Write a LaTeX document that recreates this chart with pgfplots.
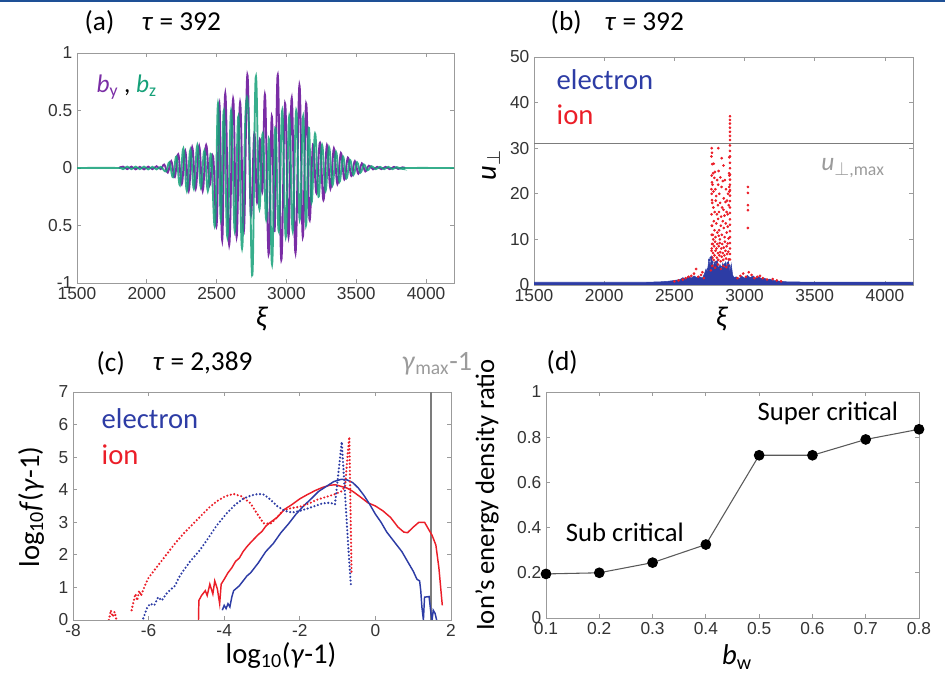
\documentclass[border=0pt]{standalone}
\usepackage{pgfplots}
\pgfplotsset{compat=1.18}
\usepackage{fontspec}
\setmainfont{Carlito}
\newfontfamily\tickfont{Liberation Sans}
\definecolor{cpurple}{RGB}{122,45,165}
\definecolor{cgreen}{RGB}{20,160,120}
\definecolor{cblue}{RGB}{45,60,165}
\definecolor{cred}{RGB}{235,30,40}
\definecolor{cgray}{RGB}{155,155,155}
\definecolor{ctop}{RGB}{30,80,150}
\pgfplotsset{
  every axis/.append style={
    scale only axis, anchor=south west,
    axis line style={cgray, line width=0.6pt},
    tick style={cgray, line width=0.6pt},
    tick align=inside, major tick length=3pt,
    ticklabel style={font=\tickfont\fontsize{13}{13}\selectfont, text=black!80},
    /pgf/number format/assume math mode=true,
    /pgf/number format/1000 sep={},
  },
  dotstyle/.style={line width=1.8pt, line cap=round, dash pattern=on 0pt off 2.7pt},
}
\newcommand{\tfont}{\fontsize{20.5}{24}\selectfont}
\newcommand{\lfont}{\fontsize{21.5}{24}\selectfont}
\begin{document}
\begin{tikzpicture}[x=0.75pt,y=0.75pt]
\useasboundingbox (0,0) rectangle (945,673);
\fill[ctop] (0,671.2) rectangle (945,673);

% ---------------- (a)
\begin{axis}[at={(57.75pt,292.5pt)}, width=282.75pt, height=172.5pt,
  xmin=1500, xmax=4200, ymin=-1, ymax=1,
  xtick={1500,2000,...,4000}, ytick={-1,-0.5,0,0.5,1},
  yticklabels={-1,0.5,0,0.5,1}]
\addplot[cpurple, line width=1.4pt, smooth, tension=0.7] coordinates {
(1800,0)(1830,0.012)(1860,-0.01)(1890,0.012)(1920,-0.012)(1950,0.01)(1980,-0.012)
(2010,0.012)(2040,-0.01)(2070,0.015)(2100,-0.01)(2125,0.03)(2150,-0.04)(2175,0.06)
(2200,-0.08)(2225,0.12)(2250,-0.14)(2275,0.15)(2300,-0.2)(2325,0.18)(2350,-0.18)
(2375,0.19)(2400,-0.2)(2425,0.2)(2450,-0.15)(2475,0.1)(2500,-0.5)(2520,0.56)
(2540,-0.63)(2562,0.65)(2590,-0.67)(2618,0.6)(2643,-0.6)(2668,0.57)(2695,-0.55)
(2720,0.81)(2745,-0.4)(2770,0.3)(2790,-0.3)(2810,0.25)(2828,-0.2)(2847,0.63)
(2872,-0.75)(2895,0.45)(2915,-0.55)(2938,0.81)(2963,-0.8)(2990,0.56)(3015,-0.6)
(3038,0.61)(3065,-0.74)(3093,0.72)(3117,-0.6)(3141,0.56)(3165,-0.45)(3190,0.2)
(3215,-0.22)(3240,0.22)(3265,-0.28)(3290,0.2)(3315,-0.18)(3340,0.17)(3365,-0.14)
(3390,0.13)(3415,-0.1)(3440,0.09)(3465,-0.07)(3490,0.06)(3515,-0.05)(3540,0.04)
(3565,-0.03)(3590,0.02)(3620,-0.012)(3650,0.01)(3680,-0.01)(3710,0.01)(3740,-0.01)
(3770,0.01)(3800,-0.008)(3830,0.006)(3850,0)};
\addplot[cgreen, line width=1.4pt, smooth, tension=0.7, opacity=0.85] coordinates {
(1500,0)(1800,0)(1830,-0.01)(1860,0.012)(1890,-0.01)(1920,0.012)(1950,-0.01)
(1980,0.012)(2010,-0.012)(2040,0.01)(2070,-0.012)(2100,0.01)(2137,-0.03)(2162,0.05)
(2187,-0.08)(2212,0.1)(2237,-0.15)(2262,0.17)(2287,-0.2)(2312,0.16)(2337,-0.18)
(2362,0.2)(2387,-0.17)(2412,0.15)(2437,-0.2)(2460,0.12)(2488,-0.5)(2510,0.56)
(2530,-0.45)(2552,0.5)(2577,-0.6)(2604,0.5)(2630,-0.55)(2656,0.45)(2682,-0.7)
(2708,0.5)(2732,0.35)(2756,-0.93)(2780,0.79)(2805,-0.35)(2830,0.3)(2855,-0.45)
(2875,0.25)(2897,-0.84)(2920,0.35)(2945,-0.55)(2970,0.5)(2995,-0.6)(3020,0.45)
(3045,-0.55)(3070,0.5)(3095,-0.45)(3120,0.45)(3140,-0.5)(3160,0.35)(3180,-0.3)
(3205,0.3)(3230,-0.25)(3255,0.2)(3280,-0.2)(3305,0.18)(3330,-0.15)(3355,0.14)
(3380,-0.12)(3405,0.1)(3430,-0.09)(3455,0.07)(3480,-0.06)(3505,0.05)(3530,-0.04)
(3555,0.03)(3580,-0.02)(3610,0.015)(3640,-0.01)(3670,0.01)(3700,-0.01)(3730,0.01)
(3760,-0.01)(3790,0.008)(3820,-0.006)(3850,0)(4200,0)};
\end{axis}

% ---------------- (b)
\begin{axis}[at={(400.5pt,291pt)}, width=284.25pt, height=171pt,
  xmin=1500, xmax=4200, ymin=0, ymax=50,
  xtick={1500,2000,...,4000}, ytick={0,10,...,50}]
\addplot[cgray!80!black, line width=0.8pt] coordinates {(1500,31)(4200,31)};
\addplot[draw=cblue, fill=cblue, line width=0.4pt] coordinates {
(1500,0.6)(2300,0.6)(2400,0.7)(2450,0.8)(2500,1.0)(2540,1.2)(2560,1.6)(2580,1.3)
(2600,1.9)(2620,1.5)(2640,2.0)(2660,1.6)(2680,1.8)(2700,1.5)(2715,2.5)(2725,3.5)
(2735,2.8)(2745,5.5)(2755,4.2)(2765,6.2)(2775,3.8)(2785,5.0)(2795,4.0)(2805,5.5)
(2815,3.5)(2825,4.5)(2835,3.2)(2845,4.8)(2855,3.5)(2865,5.0)(2875,3.8)(2885,5.2)
(2895,3.0)(2905,4.6)(2915,2.2)(2925,1.6)(2940,1.8)(2960,1.4)(2980,1.9)(3000,1.5)
(3020,2.1)(3040,1.6)(3060,2.0)(3080,1.5)(3100,1.8)(3120,1.4)(3140,1.5)(3160,1.2)
(3180,1.3)(3200,1.0)(3230,0.9)(3260,0.8)(3300,0.7)(3400,0.65)(4200,0.6)} \closedcycle;
\addplot[only marks, mark=*, mark size=0.8pt, cred] coordinates {
(2896,37)(2896,36.2)(2896,35.4)(2896,34.5)(2896,33.6)(2896,32.7)(2896,31.8)
(2896,30.6)(2896,29.4)(2896,28.2)(2896,26.8)(2896,25.6)(2896,24.2)(2896,23.1)
(2896,22.0)(2896,20.8)(2896,19.6)(2896,18.4)(2896,17.0)(2896,15.8)(2896,14.4)
(2896,13.2)(2896,11.8)(2896,10.5)(2896,9.2)(2896,8.0)(2896,6.8)(2896,5.6)
(2892,20.5)(2891,21.5)(2892,24)(2891,28)
(2766,30.0)(2768,29.0)(2764,28.2)(2770,26.5)(2766,24.0)(2768,22.5)(2764,21.0)
(2766,20.0)(2768,18.6)(2765,15.5)(2767,13.0)(2766,11.0)(2768,9.0)(2765,7.5)(2767,6.0)
(3024,21.5)(3024,20.2)(3024,17.5)(3024,16.4)(3024,12.5)
(2813,30.0)(2837,27.8)(2789,24.8)(2850,26.2)(2780,26.6)
(2772,22)(2779,20.5)(2785,23.5)(2792,21)(2798,19.5)(2805,23)(2812,22)(2820,20)
(2828,23.6)(2836,21.5)(2845,22.8)(2852,19)(2860,23)(2868,21)(2875,18.5)(2882,20)
(2890,24.5)(2776,24.5)(2815,25)
(2770,18)(2778,17)(2787,16)(2795,18.5)(2803,15.5)(2810,17.5)(2818,16)(2826,18)
(2833,15)(2840,17)(2850,16.5)(2857,15.2)(2864,18.2)(2872,16)(2880,15.5)(2887,17.5)
(2768,13)(2774,11)(2781,14)(2786,12)(2793,10.5)(2799,13.5)(2806,11.5)(2812,14.5)
(2819,12)(2824,10)(2831,13)(2838,11)(2845,14)(2852,12.5)(2858,10.5)(2866,13.5)
(2873,11.5)(2880,12.8)(2886,10.2)(2777,10)(2816,10.8)
(2766,8)(2770,6)(2773,9)(2776,7)(2780,5.5)(2783,8.5)(2786,6.5)(2790,9.5)(2793,7.5)
(2796,5)(2800,8)(2803,6)(2806,9)(2810,7)(2813,5.5)(2816,8.5)(2820,6.5)(2823,9.2)
(2827,7.2)(2830,5.2)(2834,8)(2837,6.2)(2841,9)(2845,7)(2848,5.5)(2852,8.2)(2856,6.5)
(2860,9.5)(2864,7.5)(2868,5.8)(2872,8.5)(2876,6.8)(2880,9.1)(2884,7.3)(2888,5.6)
(2770,4.2)(2790,3.8)(2810,4.5)(2830,3.5)(2850,4.2)(2870,3.9)(2885,4.4)(2760,3.2)
(2560,1.2)(2580,1.5)(2600,1.8)(2620,2.0)(2640,2.5)(2655,3.5)(2670,1.8)(2690,2.2)
(2700,2.8)(2710,1.5)(2950,1.5)(2970,2.0)(2990,2.5)(3010,1.8)(3030,2.8)(3050,2.2)
(3070,1.5)(3090,1.8)(3110,2.0)(3130,1.5)(3160,1.2)(3200,1.3)(3230,1.0)(2500,0.8)
(2530,1.0)(3260,0.8)};
\addplot[only marks, mark=*, mark size=0.8pt, cblue] coordinates {
(2750,5.5)(2760,6)(2770,5)(2790,4.5)(2800,5)(2830,4)(2860,4.5)(2880,4.8)(2890,4.2)
(2740,3.5)(2820,3.2)(2850,2.8)};
\end{axis}

% ---------------- (c)
\begin{axis}[at={(54.75pt,39.75pt)}, width=283.5pt, height=171pt,
  xmin=-8, xmax=2, ymin=0, ymax=7,
  xtick={-8,-6,...,2}, ytick={0,1,...,7}]
\addplot[cgray!80!black, line width=0.9pt] coordinates {(1.47,0)(1.47,7)};
\addplot[cred, line width=1.1pt] coordinates {
(-4.68,0.0)(-4.67,0.6)(-4.6,0.75)(-4.5,0.9)(-4.45,0.75)(-4.38,1.1)(-4.3,0.8)
(-4.25,1.2)(-4.18,0.95)(-4.12,0.5)(-4.08,1.1)(-4.0,1.25)(-3.9,1.45)(-3.8,1.6)
(-3.7,1.8)(-3.6,1.9)(-3.5,2.1)(-3.4,2.25)(-3.3,2.38)(-3.2,2.5)(-3.1,2.62)(-3.0,2.72)
(-2.9,2.88)(-2.8,2.98)(-2.6,3.15)(-2.4,3.4)(-2.2,3.55)(-2.0,3.72)(-1.8,3.85)
(-1.6,3.97)(-1.4,4.07)(-1.2,4.14)(-1.05,4.15)(-0.9,4.1)(-0.75,4.05)(-0.6,3.95)
(-0.4,3.78)(-0.2,3.6)(0,3.5)(0.2,3.35)(0.4,3.15)(0.6,2.85)(0.75,2.7)(0.85,2.68)
(1.0,2.85)(1.15,3.0)(1.3,3.0)(1.4,2.8)(1.5,2.6)(1.6,2.3)(1.68,1.6)(1.75,0.7)(1.77,0.45)};
\addplot[cblue, line width=1.1pt] coordinates {
(-4.05,0.3)(-4.0,0.45)(-3.95,0.35)(-3.9,0.5)(-3.85,0.4)(-3.8,0.7)(-3.75,0.9)
(-3.6,1.05)(-3.5,1.2)(-3.4,1.35)(-3.3,1.45)(-3.1,1.75)(-2.9,2.1)(-2.7,2.35)
(-2.5,2.68)(-2.3,2.95)(-2.1,3.25)(-1.9,3.5)(-1.7,3.72)(-1.5,3.95)(-1.3,4.1)
(-1.1,4.25)(-0.9,4.32)(-0.75,4.3)(-0.6,4.22)(-0.45,4.05)(-0.3,3.82)(-0.15,3.55)
(0.0,3.25)(0.15,3.0)(0.3,2.7)(0.5,2.4)(0.7,2.1)(0.9,1.7)(1.0,1.5)(1.1,1.25)
(1.17,1.2)(1.2,0.9)(1.23,0.4)(1.27,0.0)(1.3,0.7)(1.42,0.72)(1.47,0.2)(1.5,0.0)
(1.53,0.3)(1.58,0.2)(1.62,0.0)};
\addplot[cred, dotstyle] coordinates {
(-7.05,0)(-7.0,0.3)(-6.95,0.1)(-6.9,0.25)(-6.85,0)};
\addplot[cred, dotstyle] coordinates {
(-6.45,0.3)(-6.4,0.55)(-6.35,0.8)(-6.3,0.6)(-6.25,0.9)(-6.2,0.75)(-6.1,1.05)
(-6.0,1.3)(-5.9,1.45)(-5.7,1.75)(-5.5,2.05)(-5.3,2.35)(-5.07,2.66)(-4.85,2.92)
(-4.63,3.18)(-4.4,3.45)(-4.19,3.65)(-3.97,3.8)(-3.75,3.87)(-3.55,3.8)(-3.31,3.59)
(-3.15,3.3)(-2.96,2.97)(-2.78,2.95)(-2.6,3.15)(-2.43,3.38)(-2.2,3.44)(-1.99,3.48)
(-1.75,3.58)(-1.55,3.69)(-1.3,3.78)(-1.1,3.85)(-0.9,3.95)(-0.8,4.1)(-0.74,5.0)
(-0.69,5.62)(-0.66,3.5)(-0.63,1.4)};
\addplot[cblue, dotstyle] coordinates {
(-6.14,0.05)(-6.05,0.35)(-5.96,0.5)(-5.85,0.45)(-5.75,0.7)(-5.65,0.6)(-5.52,0.82)
(-5.4,0.95)(-5.3,1.05)(-5.2,1.3)(-5.09,1.5)(-4.9,1.8)(-4.64,2.15)(-4.4,2.55)
(-4.2,2.9)(-3.93,3.28)(-3.7,3.55)(-3.5,3.72)(-3.3,3.82)(-3.1,3.87)(-2.95,3.85)
(-2.8,3.72)(-2.6,3.5)(-2.4,3.35)(-2.2,3.3)(-2.0,3.35)(-1.8,3.42)(-1.6,3.5)
(-1.4,3.58)(-1.2,3.6)(-1.07,3.55)(-0.98,4.5)(-0.89,5.47)(-0.8,3.8)(-0.72,2.3)(-0.65,1.1)};
\end{axis}

% ---------------- (d)
\begin{axis}[at={(409.5pt,41.25pt)}, width=279.75pt, height=169.5pt,
  xmin=0.1, xmax=0.8, ymin=0, ymax=1,
  xtick={0.1,0.2,...,0.8}, ytick={0,0.2,...,1},
  clip mode=individual]
\addplot[black!65, line width=0.8pt, mark=*, mark size=3.6pt,
  mark options={black, fill=black}] coordinates {
(0.1,0.195)(0.2,0.2)(0.3,0.245)(0.4,0.325)(0.5,0.72)(0.6,0.72)(0.7,0.79)(0.8,0.835)};
\node[font=\fontsize{20}{24}\selectfont] at (axis cs:0.248,0.38) {Sub critical};
\node[font=\fontsize{20}{24}\selectfont] at (axis cs:0.629,0.905) {Super critical};
\end{axis}

% ---------------- labels
\node[anchor=west, font=\tfont] at (80,651) {(a)};
\node[anchor=west, font=\tfont] at (137,651) {\textit{τ} = 392};
\node[anchor=west, font=\tfont] at (546,651) {(b)};
\node[anchor=west, font=\tfont] at (600,651) {\textit{τ} = 392};
\node[anchor=west, font=\tfont] at (92,310) {(c)};
\node[anchor=west, font=\tfont] at (148,310) {\textit{τ} = 2,389};
\node[anchor=west, font=\tfont] at (542,311) {(d)};
\node[font=\fontsize{21}{24}\selectfont, text=cgray] at (437,309) {\textit{γ}\textsubscript{max}-1};

\node[anchor=west, font=\fontsize{19}{22}\selectfont] at (92,586)
  {{\color{cpurple}\textit{b}\textsubscript{y}} , {\color{cgreen}\textit{b}\textsubscript{z}}};
\node[anchor=west, font=\fontsize{21.5}{24}\selectfont, text=cblue] at (552,593) {electron};
\node[anchor=west, font=\fontsize{21.5}{24}\selectfont, text=cred] at (552,558) {ion};
\node[anchor=west, font=\fontsize{21.5}{24}\selectfont, text=cblue] at (97,254) {electron};
\node[anchor=west, font=\fontsize{21.5}{24}\selectfont, text=cred] at (97,218) {ion};
\node[font=\fontsize{19}{22}\selectfont, text=cgray] at (853,505) {\textit{u}\textsubscript{$\perp$,max}};

\node[font=\lfont] at (262,354) {\textit{ξ}};
\node[font=\lfont] at (722,354) {\textit{ξ}};
\node[font=\lfont, rotate=90] at (491,508) {\textit{u}\textsubscript{$\perp$}};
\node[font=\lfont, rotate=90] at (31,166) {log\textsubscript{10}\textit{f}(\textit{γ}-1)};
\node[font=\lfont] at (281,18) {log\textsubscript{10}(\textit{γ}-1)};
\node[font=\fontsize{20}{24}\selectfont, rotate=90] at (487,178) {Ion’s energy density ratio};
\node[font=\lfont] at (737,16) {\textit{b}\textsubscript{w}};
\end{tikzpicture}
\end{document}
